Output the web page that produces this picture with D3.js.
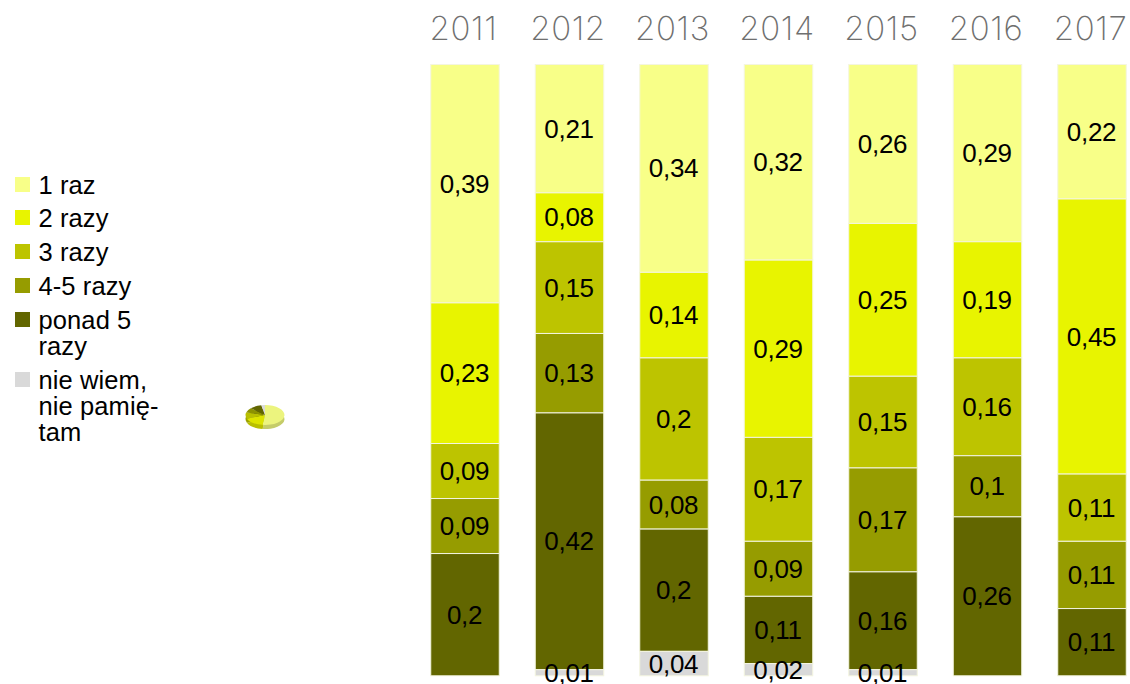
<!DOCTYPE html>
<html><head><meta charset="utf-8">
<script src="https://cdn.jsdelivr.net/npm/d3@7"></script>
<style>html,body{margin:0;padding:0;background:#fff}svg{display:block}text{font-family:"Liberation Sans",Arial,sans-serif;fill:#000}</style>
</head><body><svg id="c" width="1130" height="684"></svg>
<script>
const years=["2011","2012","2013","2014","2015","2016","2017"];
const seriesNames=["1 raz","2 razy","3 razy","4-5 razy","ponad 5 razy","nie wiem, nie pamiętam"];
const legendLines=[["1 raz"],["2 razy"],["3 razy"],["4-5 razy"],["ponad 5","razy"],["nie wiem,","nie pamię-","tam"]];
const colors=["#f8ff88","#e8f400","#bdc400","#969c00","#626600","#d9d9d9"];
const raz1=[0.39,0.21,0.34,0.32,0.26,0.29,0.22];
const raz2=[0.23,0.08,0.14,0.29,0.25,0.19,0.45];
const raz3=[0.09,0.15,0.2,0.17,0.15,0.16,0.11];
const raz45=[0.09,0.13,0.08,0.09,0.17,0.1,0.11];
const raz5=[0.2,0.42,0.2,0.11,0.16,0.26,0.11];
const nieWiem=[0,0.01,0.04,0.02,0.01,0,0];
const pieValues=[0.52,0.17,0.1,0.08,0.1,0.03];
const pieColors=["#ecf47e","#dde400","#b9c000","#8c9200","#626600","#d9d9d9"];

const svg=d3.select("#c");
const cols=[raz1,raz2,raz3,raz45,raz5,nieWiem];
const rows=years.map((y,i)=>{const o={year:y};seriesNames.forEach((s,k)=>o[s]=cols[k][i]);return o;});
const stacked=d3.stack().keys(seriesNames).offset(d3.stackOffsetExpand)(rows);
const xPos=d3.scalePoint().domain(years).range([465,1092]);
const bw=68.5;
const y=d3.scaleLinear().domain([0,1]).range([64.5,675.8]);
const fmt=v=>String(v).replace(".",",");

svg.append("g").selectAll("text").data(years).join("text")
 .attr("x",d=>xPos(d)-1.5).attr("y",40).attr("text-anchor","middle")
 .style("font-family","Inter").style("font-weight",200).style("font-size","33px")
 .style("letter-spacing","0.6px").style("fill","#6f6f6f").text(d=>d);

stacked.forEach((s,k)=>{
 svg.append("g").selectAll("rect").data(s.filter(d=>d[1]>d[0])).join("rect")
  .attr("x",d=>xPos(d.data.year)-bw/2).attr("width",bw)
  .attr("y",d=>y(d[0])).attr("height",d=>y(d[1])-y(d[0]))
  .attr("fill",colors[k]).attr("stroke","#f4f5e0").attr("stroke-width",1);
});
stacked.forEach((s,k)=>{
 svg.append("g").selectAll("text").data(s.filter(d=>d[1]>d[0])).join("text")
  .attr("x",d=>xPos(d.data.year)-0.5).attr("y",d=>(y(d[0])+y(d[1]))/2+9)
  .attr("text-anchor","middle").style("font-size","26px").style("letter-spacing","-0.3px")
  .text(d=>fmt(cols[k][years.indexOf(d.data.year)]));
});

const legendY=[185,218,252,286,320,380];
legendLines.forEach((lines,i)=>{
 const g=svg.append("g");
 g.append("rect").attr("x",15).attr("y",legendY[i]-8).attr("width",15).attr("height",15).attr("fill",colors[i]);
 lines.forEach((l,j)=>g.append("text").attr("x",38.5).attr("y",legendY[i]+9+j*26.2).style("font-size","25.5px").style("letter-spacing","0.1px").text(l));
});

const pie=d3.pie().value(d=>d).sort(null)(pieValues);
const arc=d3.arc().innerRadius(0).outerRadius(19.5);
const pg=svg.append("g").attr("transform","translate(265,415) scale(1,0.51)");
pg.append("g").attr("transform","translate(0,8)").selectAll("path").data(pie).join("path")
 .attr("d",arc).attr("fill",(d,i)=>d3.color(pieColors[i]).darker(0.5));
pg.append("g").selectAll("path").data(pie).join("path")
 .attr("d",arc).attr("fill",(d,i)=>pieColors[i]);
</script></body></html>
